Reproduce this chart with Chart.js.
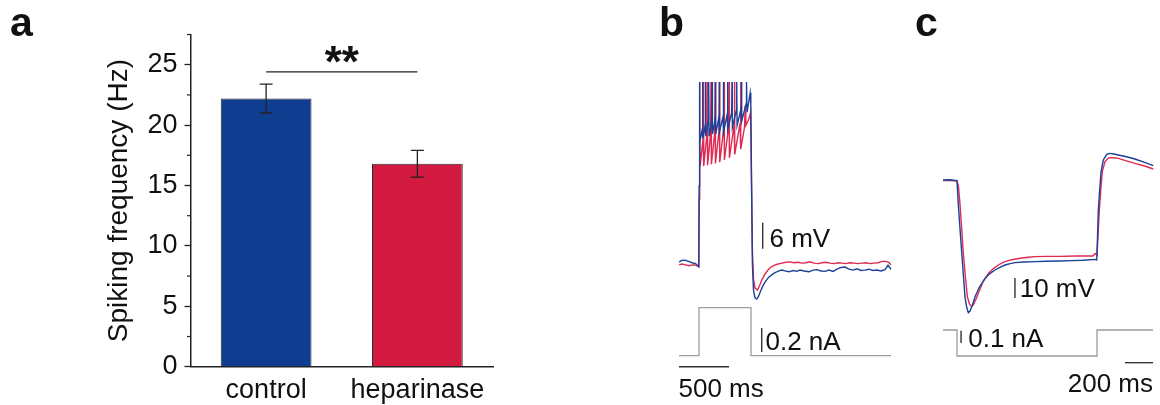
<!DOCTYPE html>
<html><head><meta charset="utf-8">
<script src="https://cdn.jsdelivr.net/npm/chart.js@4.4.1/dist/chart.umd.min.js"></script>
<style>
html,body{margin:0;padding:0;background:#fff;}
#page{position:relative;width:1160px;height:405px;overflow:hidden;background:#fff;font-family:"Liberation Sans",Arial,sans-serif;}
#page canvas{position:absolute;top:0;}
.plbl{position:absolute;font-weight:bold;font-size:41px;line-height:41px;color:#111;font-family:"Liberation Sans",Arial,sans-serif;}
</style></head><body>
<div id="page">
<canvas id="ca" width="500" height="405" style="left:0px"></canvas>
<canvas id="cb" width="250" height="405" style="left:655px"></canvas>
<canvas id="cc" width="255" height="405" style="left:905px"></canvas>
<div class="plbl" style="left:10px;top:2px">a</div>
<div class="plbl" style="left:659px;top:2px">b</div>
<div class="plbl" style="left:915px;top:2px">c</div>
</div>
<script>
// ---------- Panel a data ----------
const categories = ['control', 'heparinase'];
const meanFreq = [22.2, 16.8];
const semFreq = [1.2, 1.1];
const yTickLabels = [0, 5, 10, 15, 20, 25];
const sigLevel = 24.4;       // significance bracket height (Hz)
const sigText = '**';

// ---------- Panel b data (time ms, voltage mV relative, current nA) ----------
const bBlue = [
 [0,0.4],[25,0.8],[60,0.9],[95,0.6],[130,0.3],[165,0.1],[198,-0.6],
 [201,18],[204,42],[208,28],
 [232,31],[235,42],[239,29],
 [262,32],[265,42],[269,29.5],
 [294,33],[297,42],[301,29.5],
 [327,33],[330,42],[334,30],
 [362,33.5],[365,42],[369,30],
 [400,34],[403,42],[407,30.5],
 [440,34],[443,42],[447,30.5],
 [482,34.5],[485,42],[489,31],
 [527,35],[530,42],[534,31.5],
 [574,35.5],[577,42],[581,32],
 [622,36],[625,42],[629,33],
 [672,37],[675,42],[680,35],
 [712,39.5],[718,37],[726,18],[734,0],[745,-6],[760,-7.8],[778,-8.1],[795,-7.5],[815,-6.3],
 [840,-5],[865,-4],[895,-3.1],[927,-2.5],[960,-2],[1000,-1.6],[1030,-1.4],[1060,-1.6],[1100,-1.8],
 [1140,-1.5],[1180,-1.7],[1210,-1.4],[1250,-1.6],[1300,-1.8],[1340,-1.4],[1380,-1.3],[1420,-1.6],
 [1460,-1.7],[1500,-1.4],[1540,-1.7],[1580,-1.2],[1620,-0.8],[1660,-0.7],[1700,-1.2],[1740,-1.4],
 [1780,-1.1],[1820,-1.5],[1860,-1.4],[1900,-1.2],[1940,-1.5],[1980,-1.4],[2020,-1.6],[2060,-1.3],
 [2090,-0.3],[2120,-1.2]
];
const bRed = [
 [0,-0.2],[30,0],[65,-0.2],[100,-0.4],[135,-0.2],[170,-0.3],[198,-0.6],
 [202,15],[207,42],[211,22.5],
 [241,29],[245,42],[249,22.6],
 [278,29.5],[282,42],[286,22.8],
 [316,30],[320,42],[324,23],
 [356,30],[360,42],[364,23.2],
 [399,30.5],[403,42],[407,23.5],
 [446,31],[450,42],[454,24],
 [496,31.5],[500,42],[504,24.5],
 [551,32],[555,42],[559,25.3],
 [611,32.5],[615,42],[619,26.5],
 [655,31.5],[662,36.5],[668,32],[690,33],[705,34],[716,35],[724,20],[734,3],[745,-3.5],[760,-5.5],
 [785,-6],[805,-5],[830,-3.6],[860,-2.3],[890,-1.4],[920,-0.7],[950,-0.3],[990,0],[1030,0.2],
 [1070,0.4],[1110,0.5],[1150,0.3],[1190,0.4],[1230,0.2],[1270,0.3],[1310,0.5],[1350,0.2],[1390,0.1],
 [1430,0.3],[1470,0.4],[1510,0.2],[1550,0.1],[1590,0.3],[1630,0.2],[1670,0.1],[1710,0.3],[1750,0.2],
 [1790,0.1],[1830,0.2],[1870,0.3],[1910,0.1],[1950,0.2],[1990,0.3],[2030,0.6],[2070,0.6],[2100,0.3],[2120,-0.2]
];
const bCurrent = [[0,0],[200,0],[200,0.4],[720,0.4],[720,0],[2120,0]];

// ---------- Panel c data ----------
const cBlue = [
 [0,0],[50,0.1],[100,-0.3],[109,-11.7],[121,-24],[134,-36.5],[146,-48],[157,-58.4],[169,-63.5],[181,-66.3],
 [193,-65.5],[210,-62.5],[229,-58.4],[260,-53.5],[300,-49.2],[335,-46.8],[371,-45],[410,-43.6],[443,-42.5],
 [480,-41.8],[514,-41.3],[580,-41],[657,-40.8],[740,-40.6],[836,-40.5],[920,-40.3],[1000,-40.1],[1086,-39.7],
 [1098,-40],[1104,-28],[1109,-15.8],[1119,-5],[1129,4.2],[1145,10],[1169,12.8],[1193,13.3],[1220,13],
 [1252,12.5],[1310,11.6],[1371,10.5],[1440,8.8],[1502,7.2]
];
const cRed = [
 [0,-0.3],[50,-0.3],[100,-0.5],[110,-3],[121,-11.7],[133,-24],[145,-36.7],[160,-48.5],[174,-58.4],[189,-62],
 [205,-63.3],[220,-62],[236,-59.5],[252,-56.7],[285,-51],[324,-46.7],[360,-44.3],[395,-42.5],[430,-41.2],
 [466,-40.3],[510,-39.6],[562,-39],[610,-38.6],[657,-38.3],[740,-38.2],[836,-38.2],[950,-38],[1071,-38],
 [1086,-36.7],[1100,-37.5],[1108,-27],[1116,-15.8],[1127,-5],[1138,4.2],[1157,9.2],[1186,11.2],[1220,11.1],
 [1252,10.8],[1310,9.6],[1371,8.3],[1440,7],[1502,5.5]
];
const cCurrent = [[0,0],[100,0],[100,-0.2],[1100,-0.2],[1100,0],[1500,0]];

// ---------- Scale bars & labels ----------
const bBars = [
 {axis:'v', pts:[[837,3.5],[837,9.5]]},
 {axis:'i', pts:[[827,0.03],[827,0.23]]},
 {axis:'i', pts:[[0,-0.092],[500,-0.092]]}
];
const bLabels = [
 {text:'6 mV', t:905, axis:'v', y:3.9, align:'left'},
 {text:'0.2 nA', t:865, axis:'i', y:0.047, align:'left'},
 {text:'500 ms', t:-5, axis:'i', y:-0.344, align:'left'}
];
const cBars = [
 {axis:'v', pts:[[514,-49],[514,-59]]},
 {axis:'i', pts:[[129,-0.005],[129,-0.1]]},
 {axis:'i', pts:[[1300,-0.2515],[1500,-0.2515]]}
];
const cLabels = [
 {text:'10 mV', t:548, axis:'v', y:-58.5, align:'left'},
 {text:'0.1 nA', t:180, axis:'i', y:-0.131, align:'left'},
 {text:'200 ms', t:1500, axis:'i', y:-0.477, align:'right'}
];

// ---------- Styling ----------
const F = "'Liberation Sans', Arial, sans-serif";
const BLUE_BAR = '#0f3e91', RED_BAR = '#d21a41';
const BLUE_TR = '#1c4199', RED_TR = '#e02a52', GRAY = '#9c9c9c', INK = '#111';
Chart.defaults.font.family = F;

const pairs = arr => arr.map(p => ({x:p[0], y:p[1]}));

// Panel a plugin: error bars, significance, minor ticks
const errPlugin = {
  id:'errbars',
  afterDatasetsDraw(chart){
    const ctx = chart.ctx, meta = chart.getDatasetMeta(0), ys = chart.scales.y;
    ctx.save();
    ctx.strokeStyle = '#222'; ctx.lineWidth = 1.3;
    meta.data.forEach((bar, i) => {
      const x = bar.x;
      const yt = ys.getPixelForValue(meanFreq[i] + semFreq[i]);
      const yb = ys.getPixelForValue(meanFreq[i] - semFreq[i]);
      ctx.beginPath();
      ctx.moveTo(x, yt); ctx.lineTo(x, yb);
      ctx.moveTo(x - 6.5, yt); ctx.lineTo(x + 6.5, yt);
      ctx.moveTo(x - 6.5, yb); ctx.lineTo(x + 6.5, yb);
      ctx.stroke();
    });
    const sy = ys.getPixelForValue(sigLevel);
    ctx.lineWidth = 1.2;
    ctx.beginPath(); ctx.moveTo(meta.data[0].x, sy); ctx.lineTo(meta.data[1].x, sy); ctx.stroke();
    ctx.fillStyle = INK; ctx.font = 'bold 44px ' + F; ctx.textAlign = 'center'; ctx.textBaseline = 'alphabetic';
    ctx.fillText(sigText, (meta.data[0].x + meta.data[1].x) / 2, ys.getPixelForValue(24.0));
    // minor ticks
    ctx.lineWidth = 1.2; ctx.strokeStyle = '#222';
    const left = chart.chartArea.left;
    ys.ticks.forEach(t => {
      if (!yTickLabels.includes(t.value)) {
        const py = ys.getPixelForValue(t.value);
        ctx.beginPath(); ctx.moveTo(left - 3.5, py); ctx.lineTo(left, py); ctx.stroke();
      }
    });
    ctx.restore();
  }
};

new Chart(document.getElementById('ca'), {
  type:'bar',
  data:{labels:categories, datasets:[{
    data:meanFreq, backgroundColor:[BLUE_BAR, RED_BAR], borderColor:'#2a2a2a', borderWidth:1,
    borderSkipped:'start', barPercentage:0.6, categoryPercentage:1
  }]},
  options:{
    responsive:false, animation:false, devicePixelRatio:1,
    layout:{padding:{left:90, top:34.5, right:7, bottom:0}},
    plugins:{legend:{display:false}, tooltip:{enabled:false}},
    scales:{
      x:{
        grid:{display:false, drawTicks:false},
        border:{display:true, color:'#222', width:1.5},
        ticks:{font:{family:F, size:27}, color:INK, padding:7.7},
        afterFit(s){ s.height = 38.3; }
      },
      y:{
        min:0, max:27.5,
        ticks:{stepSize:2.5, autoSkip:false, font:{family:F, size:27}, color:INK, padding:7,
               callback:v => yTickLabels.includes(v) ? String(v) : ''},
        grid:{display:true, drawOnChartArea:false, drawTicks:true, tickLength:6, tickWidth:1.3,
              tickColor:c => (c.tick && yTickLabels.includes(c.tick.value)) ? '#222' : 'rgba(0,0,0,0)'},
        border:{display:true, color:'#222', width:1.5},
        title:{display:true, text:'Spiking frequency (Hz)', font:{family:F, size:28}, color:INK, padding:{top:12, bottom:0}},
        afterFit(s){ s.width = 100.5; }
      }
    }
  },
  plugins:[errPlugin]
});

// Trace panels
const labelPlugin = {
  id:'scaleLabels',
  afterDatasetsDraw(chart, args, opts){
    const ctx = chart.ctx;
    ctx.save();
    ctx.fillStyle = INK; ctx.font = '26px ' + F; ctx.textBaseline = 'alphabetic';
    (opts.items || []).forEach(it => {
      ctx.textAlign = it.align;
      ctx.fillText(it.text, chart.scales.x.getPixelForValue(it.t), chart.scales[it.axis].getPixelForValue(it.y));
    });
    ctx.restore();
  }
};

function traceChart(id, blue, red, current, bars, labels, rng){
  const ds = [
    {data:pairs(blue), borderColor:BLUE_TR, borderWidth:1.4, yAxisID:'v'},
    {data:pairs(red), borderColor:RED_TR, borderWidth:1.4, yAxisID:'v'},
    {data:pairs(current), borderColor:GRAY, borderWidth:1.3, yAxisID:'i'}
  ];
  bars.forEach(b => ds.push({data:pairs(b.pts), borderColor:'#333', borderWidth:1.4, yAxisID:b.axis}));
  ds.forEach(d => { d.pointRadius = 0; d.fill = false; d.tension = 0; d.clip = false; });
  return new Chart(document.getElementById(id), {
    type:'line',
    data:{datasets:ds},
    options:{
      responsive:false, animation:false, devicePixelRatio:1,
      layout:{padding:0},
      plugins:{legend:{display:false}, tooltip:{enabled:false}, scaleLabels:{items:labels}},
      scales:{
        x:{type:'linear', display:false, min:rng.t[0], max:rng.t[1]},
        v:{type:'linear', display:false, min:rng.v[0], max:rng.v[1]},
        i:{type:'linear', display:false, min:rng.i[0], max:rng.i[1]}
      }
    },
    plugins:[labelPlugin]
  });
}

traceChart('cb', bBlue, bRed, bCurrent, bBars, bLabels, {t:[-240, 2260], v:[-32.54, 60.93], i:[-0.411, 2.964]});
traceChart('cc', cBlue, cRed, cCurrent, cBars, cLabels, {t:[-271.4, 1550], v:[-112.5, 90], i:[-0.577, 2.538]});
</script>
</body></html>
